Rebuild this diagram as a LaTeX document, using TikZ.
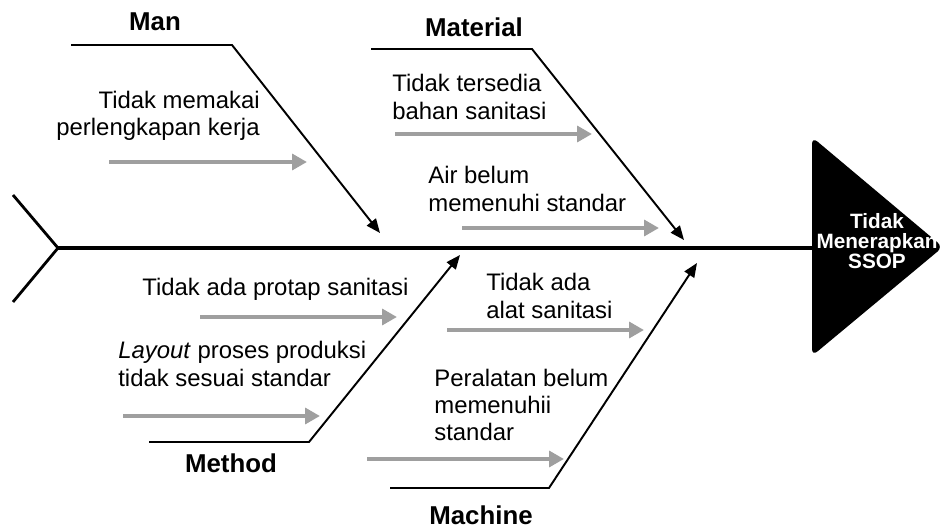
\documentclass[tikz,border=0pt]{standalone}
\usepackage{fontspec}
\setmainfont{Liberation Sans}
\usetikzlibrary{arrows.meta}
\begin{document}
\begin{tikzpicture}[x=0.02cm, y=-0.02cm,
    bone/.style={line width=1.1pt, -{Triangle[length=8pt,width=6.5pt]}},
    cause/.style={line width=2.3pt, gray!75, -{Triangle[length=8.5pt,width=9pt]}},
    txt/.style={font=\fontsize{13.6}{15.6}\selectfont, inner sep=0pt},
    cat/.style={font=\fontsize{14.7}{17}\selectfont\bfseries, inner sep=0pt}]
    \useasboundingbox (0,0) rectangle (944,527);

    % spine and tail
    \coordinate (tail) at (58,248);
    \coordinate (neck) at (812,248);
    \coordinate (finA) at (13,195);
    \coordinate (finB) at (13,302);
    \draw[line width=2.8pt] (tail) -- (neck);
    \draw[line width=1.6pt] (finA) -- (tail) -- (finB);

    % head
    \fill[rounded corners=4pt] (812,248) -- (812,137) -- (943,247) -- (812,356) -- cycle;
    \node[white, font=\fontsize{11.8}{11.2}\selectfont\bfseries, align=center, inner sep=0pt]
        (effect) at (877,241) {Tidak\\Menerapkan\\SSOP};

    % main bones
    \coordinate (man0) at (71,45);   \coordinate (man1) at (232,45);  \coordinate (man2) at (380,233);
    \coordinate (mat0) at (371,49);  \coordinate (mat1) at (532,49);  \coordinate (mat2) at (684,240);
    \coordinate (met0) at (149,442); \coordinate (met1) at (309,442); \coordinate (met2) at (460,255);
    \coordinate (mac0) at (390,488); \coordinate (mac1) at (549,488); \coordinate (mac2) at (697,263);
    \draw[bone] (man0) -- (man1) -- (man2);
    \draw[bone] (mat0) -- (mat1) -- (mat2);
    \draw[bone] (met0) -- (met1) -- (met2);
    \draw[bone] (mac0) -- (mac1) -- (mac2);

    \node[cat] (man) at (155,22) {Man};
    \node[cat] (material) at (474,27) {Material};
    \node[cat] (method) at (231,463) {Method};
    \node[cat] (machine) at (481,515) {Machine};

    % causes
    \foreach \n/\a/\b/\y in {c1/109/307/162, c2/395/592/134, c3/462/659/228,
                             c4/200/397/317, c5/123/320/416, c6/447/644/330, c7/367/564/459} {
        \coordinate (\n s) at (\a,\y);
        \coordinate (\n e) at (\b,\y);
        \draw[cause] (\n s) -- (\n e);
    }

    \node[txt, align=right, anchor=east] (t1) at (260,116) {Tidak memakai\\perlengkapan kerja};
    \node[txt, align=left, anchor=west] (t2) at (392,97) {Tidak tersedia\\bahan sanitasi};
    \node[txt, align=left, anchor=west] (t3) at (428,189) {Air belum\\memenuhi standar};
    \node[txt, anchor=west] (t4) at (142,289) {Tidak ada protap sanitasi};
    \node[txt, align=left, anchor=west] (t5) at (118,364) {\textit{Layout} proses produksi\\tidak sesuai standar};
    \node[txt, align=left, anchor=west] (t6) at (486,296) {Tidak ada\\alat sanitasi};
    \node[txt, align=left, anchor=west] (t7) at (434,405) {Peralatan belum\\memenuhii\\standar};
\end{tikzpicture}
\end{document}
